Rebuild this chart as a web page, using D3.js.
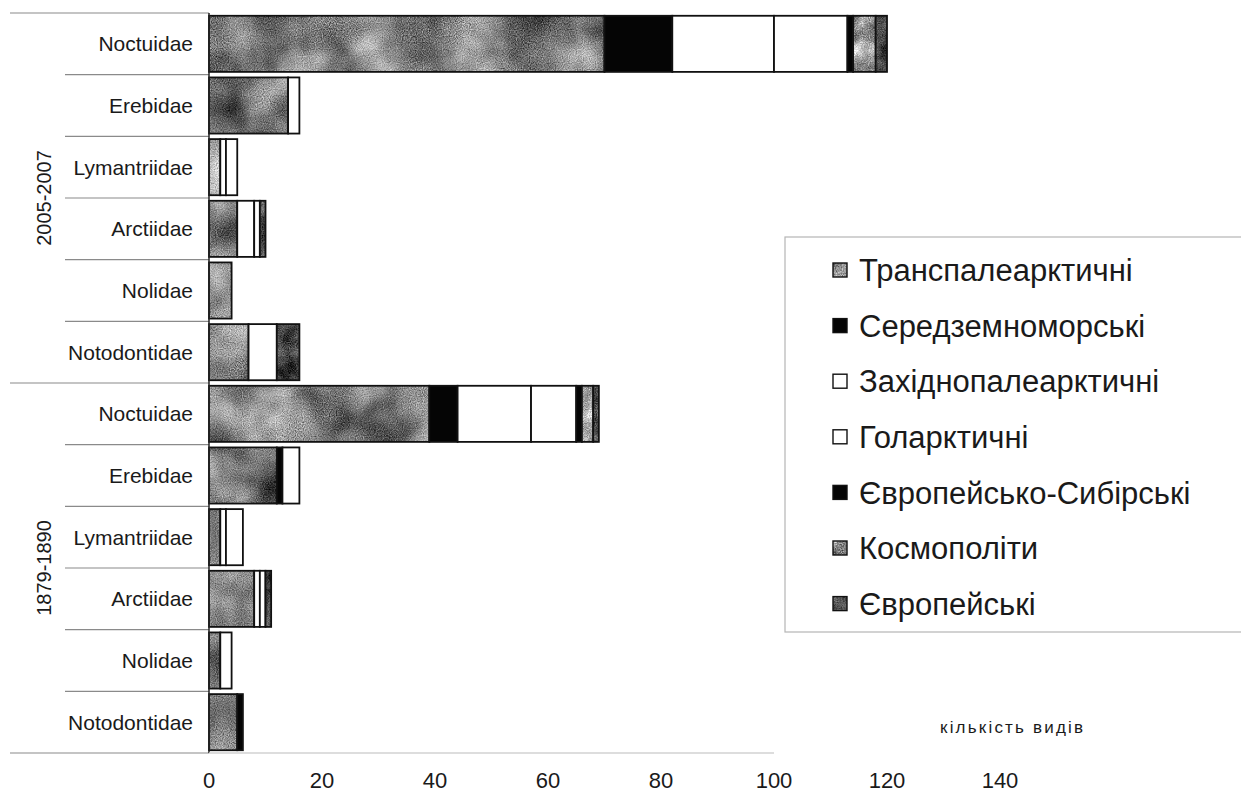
<!DOCTYPE html>
<html>
<head>
<meta charset="utf-8">
<script src="https://cdn.jsdelivr.net/npm/d3@7"></script>
<style>
  body { margin: 0; background: #fff; }
  text { font-family: "Liberation Sans", Arial, sans-serif; fill: #1a1a1a; }
</style>
</head>
<body>
<svg id="ch" width="1241" height="792"></svg>
<script>
// Stacked bars: species by range type, two survey periods

const families = ["Noctuidae", "Erebidae", "Lymantriidae", "Arctiidae", "Nolidae", "Notodontidae"];
const periods = ["2005-2007", "1879-1890"];
const seriesNames = [
  "Транспалеарктичні",
  "Середземноморські",
  "Західнопалеарктичні",
  "Голарктичні",
  "Європейсько-Сибірські",
  "Космополіти",
  "Європейські"
];

// rows: 2005-2007 (6 families) then 1879-1890 (6 families)
const transpal = [70, 14, 2, 5, 4, 7, 39, 12, 2, 8, 2, 5];
const mediter = [12, 0, 0, 0, 0, 0, 5, 1, 0, 0, 0, 1];
const westpal = [18, 2, 1, 3, 0, 5, 13, 3, 1, 1, 2, 0];
const holarc = [13, 0, 2, 1, 0, 0, 8, 0, 3, 1, 0, 0];
const eurosib = [1, 0, 0, 0, 0, 0, 1, 0, 0, 0, 0, 0];
const cosmo = [4, 0, 0, 0, 0, 0, 2, 0, 0, 0, 0, 0];
const europ = [2, 0, 0, 1, 0, 4, 1, 0, 0, 1, 0, 0];

const xTicks = [0, 20, 40, 60, 80, 100, 120, 140];
const xTitle = "кількість видів";

const allSeries = [transpal, mediter, westpal, holarc, eurosib, cosmo, europ];

/* rows */
let rows = [];
periods.forEach((p, pi) => {
  families.forEach((f, fi) => {
    let r = { key: p + "|" + f, period: p, family: f };
    seriesNames.forEach((s, si) => {
      r[s] = allSeries[si][pi * families.length + fi];
    });
    rows.push(r);
  });
});

const svg = d3.select("#ch");
const defs = svg.append("defs");

/* grainy scanned fills: blotchy low-freq noise + fine grain */
const makeTex = (id, mean, contrast, freq, seed) => {
  let f = defs.append("filter").attr("id", id)
    .attr("x", 0).attr("y", 0).attr("width", 1).attr("height", 1)
    .attr("color-interpolation-filters", "sRGB");
  f.append("feTurbulence").attr("type", "fractalNoise")
    .attr("baseFrequency", freq).attr("numOctaves", 3).attr("seed", seed).attr("result", "n1");
  f.append("feTurbulence").attr("type", "fractalNoise")
    .attr("baseFrequency", 0.85).attr("numOctaves", 1).attr("seed", seed + 5).attr("result", "n2");
  f.append("feComposite").attr("in", "n1").attr("in2", "n2").attr("operator", "arithmetic")
    .attr("k1", 0).attr("k2", 0.55).attr("k3", 0.45).attr("k4", 0).attr("result", "n");
  let b = mean - 0.5 * contrast;
  f.append("feColorMatrix").attr("in", "n").attr("type", "matrix")
    .attr("values", `${contrast} 0 0 0 ${b}  ${contrast} 0 0 0 ${b}  ${contrast} 0 0 0 ${b}  0 0 0 0 1`)
    .attr("result", "g");
  f.append("feComposite").attr("in", "g").attr("in2", "SourceGraphic").attr("operator", "in");
};
makeTex("tex-trans", 0.5, 1.5, 0.02, 4);
makeTex("tex-cosmo", 0.6, 1.5, 0.05, 9);
makeTex("tex-europ", 0.3, 1.2, 0.05, 13);

const fills = {
  "Транспалеарктичні": { fill: "#808080", filter: "url(#tex-trans)" },
  "Середземноморські": { fill: "#050505", filter: null },
  "Західнопалеарктичні": { fill: "#fff", filter: null },
  "Голарктичні": { fill: "#fff", filter: null },
  "Європейсько-Сибірські": { fill: "#050505", filter: null },
  "Космополіти": { fill: "#999", filter: "url(#tex-cosmo)" },
  "Європейські": { fill: "#444", filter: "url(#tex-europ)" }
};

/* Scales */
const x = d3.scaleLinear().domain([0, 140]).range([209, 1000]);
const y = d3.scaleBand()
  .domain(rows.map((d) => d.key))
  .range([13, 753])
  .paddingInner(0.09)
  .paddingOuter(0.045);
const step = y.step();

const stacked = d3.stack().keys(seriesNames)(rows);

/* Bars */
const layers = svg.append("g")
  .selectAll("g")
  .data(stacked)
  .join("g");

layers.selectAll("rect.f")
  .data((d) => d.filter((s) => s[1] > s[0]).map((s) => ({ s, key: d.key })))
  .join("rect")
  .attr("class", "f")
  .attr("x", (d) => x(d.s[0]))
  .attr("y", (d) => y(d.s.data.key))
  .attr("width", (d) => x(d.s[1]) - x(d.s[0]))
  .attr("height", y.bandwidth())
  .attr("fill", (d) => fills[d.key].fill)
  .attr("filter", (d) => fills[d.key].filter);

layers.selectAll("rect.o")
  .data((d) => d.filter((s) => s[1] > s[0]))
  .join("rect")
  .attr("class", "o")
  .attr("x", (d) => x(d[0]))
  .attr("y", (d) => y(d.data.key))
  .attr("width", (d) => x(d[1]) - x(d[0]))
  .attr("height", y.bandwidth())
  .attr("fill", "none")
  .attr("stroke", "#111")
  .attr("stroke-width", 1.8);

/* Category axis: row dividers + labels */
const yTop = y.range()[0], yBot = y.range()[1];
const bounds = d3.range(rows.length + 1).map((i) => yTop + i * step);

svg.append("g")
  .selectAll("line")
  .data(bounds)
  .join("line")
  .attr("x1", (d, i) => (i % families.length === 0 ? 10 : 65))
  .attr("x2", x(0))
  .attr("y1", (d) => d)
  .attr("y2", (d) => d)
  .attr("stroke", "#8a8a8a")
  .attr("stroke-width", 1.2);

svg.append("line")
  .attr("x1", x(0)).attr("x2", x(0))
  .attr("y1", yTop).attr("y2", yBot)
  .attr("stroke", "#222").attr("stroke-width", 1.5);

svg.append("line")
  .attr("x1", x(0)).attr("x2", x(100))
  .attr("y1", yBot).attr("y2", yBot)
  .attr("stroke", "#d2d2d2").attr("stroke-width", 1.3);

svg.append("g")
  .selectAll("text")
  .data(rows)
  .join("text")
  .attr("x", 193)
  .attr("y", (d) => y(d.key) + y.bandwidth() / 2)
  .attr("dy", "0.35em")
  .attr("text-anchor", "end")
  .style("font-size", "21px")
  .text((d) => d.family);

svg.append("g")
  .selectAll("text")
  .data(periods)
  .join("text")
  .attr("transform", (d, i) => {
    let cy = yTop + step * families.length * (i + 0.5);
    return `translate(44,${cy}) rotate(-90)`;
  })
  .attr("text-anchor", "middle")
  .attr("dy", "0.35em")
  .style("font-size", "20px")
  .text((d) => d);

/* Value axis labels */
svg.append("g")
  .selectAll("text")
  .data(xTicks)
  .join("text")
  .attr("x", (d) => x(d))
  .attr("y", 788)
  .attr("text-anchor", "middle")
  .style("font-size", "22px")
  .text((d) => d);

svg.append("text")
  .attr("x", 940)
  .attr("y", 733)
  .style("font-size", "17px")
  .style("letter-spacing", "2.2px")
  .text(xTitle);

/* Legend */
const lg = svg.append("g");
lg.append("rect")
  .attr("x", 785).attr("y", 237)
  .attr("width", 470).attr("height", 395)
  .attr("fill", "#fff")
  .attr("stroke", "#b5b5b5").attr("stroke-width", 1.2);

const li = lg.selectAll("g.item")
  .data(seriesNames)
  .join("g")
  .attr("class", "item")
  .attr("transform", (d, i) => `translate(833,${270 + i * 55.6})`);

li.append("rect")
  .attr("y", -7).attr("width", 14).attr("height", 14)
  .attr("fill", (d) => fills[d].fill)
  .attr("filter", (d) => fills[d].filter);
li.append("rect")
  .attr("y", -7).attr("width", 14).attr("height", 14)
  .attr("fill", "none").attr("stroke", "#111").attr("stroke-width", 1.4);

li.append("text")
  .attr("x", 26)
  .attr("dy", "0.36em")
  .style("font-size", "31px")
  .text((d) => d);
</script>
</body>
</html>
